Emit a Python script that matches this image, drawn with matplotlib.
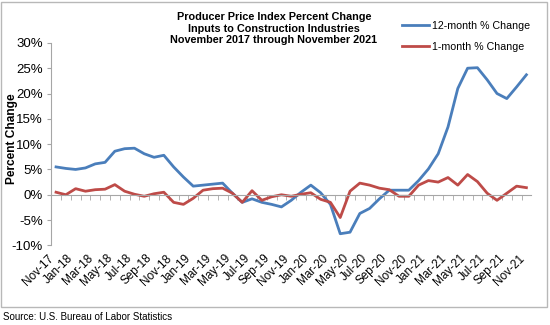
import matplotlib.pyplot as plt
import matplotlib.transforms as mtransforms
from matplotlib.patches import Rectangle

plt.rcParams['font.family'] = ['Liberation Sans', 'DejaVu Sans']

# monthly values, Nov-17 .. Nov-21
pct_12month = [5.5, 5.2, 5.0, 5.3, 6.1, 6.4, 8.6, 9.1, 9.2, 8.1, 7.4, 7.8, 5.5,
               3.5, 1.7, 1.9, 2.1, 2.3, 0.3, -1.5, -0.8, -1.5, -1.9, -2.4, -1.1,
               0.5, 1.9, 0.4, -1.9, -7.7, -7.4, -3.7, -2.7, -0.8, 0.9, 0.9, 0.9,
               2.8, 5.1, 8.1, 13.4, 21.0, 25.0, 25.1, 22.7, 20.0, 19.0, 21.3, 23.7]
pct_1month = [0.5, 0.0, 1.2, 0.7, 1.0, 1.1, 2.0, 0.7, 0.1, -0.3, 0.2, 0.5, -1.5,
              -1.9, -0.7, 0.9, 1.2, 1.3, 0.3, -1.5, 0.8, -1.1, -0.4, 0.0, -0.3,
              0.1, 0.4, -0.9, -1.5, -4.5, 0.7, 2.3, 1.9, 1.3, 1.0, -0.3, -0.3,
              1.9, 2.8, 2.5, 3.4, 1.9, 4.0, 2.6, 0.3, -1.1, 0.3, 1.7, 1.4]
month_labels = ['Nov-17', 'Jan-18', 'Mar-18', 'May-18', 'Jul-18', 'Sep-18',
                'Nov-18', 'Jan-19', 'Mar-19', 'May-19', 'Jul-19', 'Sep-19',
                'Nov-19', 'Jan-20', 'Mar-20', 'May-20', 'Jul-20', 'Sep-20',
                'Nov-20', 'Jan-21', 'Mar-21', 'May-21', 'Jul-21', 'Sep-21',
                'Nov-21']
y_ticks = [-10, -5, 0, 5, 10, 15, 20, 25, 30]

BLUE = '#4a7ebb'
RED = '#be4b48'
GRAY = '#a6a6a6'

fig = plt.figure(figsize=(5.5, 3.25), dpi=100)
ax = fig.add_axes([0.093, 0.245, 0.873, 0.623])

x = list(range(len(pct_12month)))
ax.plot(x, pct_12month, color=BLUE, lw=2.0, label='12-month % Change')
ax.plot(x, pct_1month, color=RED, lw=2.0, label='1-month % Change')

ax.set_xlim(-0.5, len(x) - 0.5)
ax.set_ylim(-10, 30)
ax.set_yticks(y_ticks)
ax.set_yticklabels([f'{v}%' for v in y_ticks], fontsize=9.5)
ax.tick_params(axis='y', direction='out', length=3, color=GRAY, pad=3)

# x axis line sits at 0%, tick marks between months
ax.spines['top'].set_visible(False)
ax.spines['right'].set_visible(False)
ax.spines['left'].set_color(GRAY)
ax.spines['bottom'].set_position(('data', 0))
ax.spines['bottom'].set_color(GRAY)
ax.set_xticks([i + 0.5 for i in x[:-1]], minor=True)
ax.set_xticks([])
ax.tick_params(axis='x', which='minor', direction='out', length=3.5, color=GRAY)

# month labels at the bottom of the plot area
sec = ax.secondary_xaxis(0.0)
sec.set_xticks(x[::2])
sec.set_xticklabels(month_labels, fontsize=8.5, rotation=45, ha='right',
                    va='center', rotation_mode='anchor')
sec.tick_params(length=0, pad=8)
sec.spines['bottom'].set_visible(False)
shift = mtransforms.ScaledTranslation(-4 / 100, 0, fig.dpi_scale_trans)
for lbl in sec.get_xticklabels():
    lbl.set_transform(lbl.get_transform() + shift)

ax.set_ylabel('Percent Change', fontsize=8.6, fontweight='bold')
ax.yaxis.set_label_coords(-0.069, 0.528)

fig.text(0.498, 0.962, 'Producer Price Index Percent Change\n'
         'Inputs to Construction Industries\n'
         'November 2017 through November 2021',
         ha='center', va='top', fontsize=7.8, fontweight='bold', linespacing=1.15)

ax.legend(loc='upper left', bbox_to_anchor=(0.731, 1.108), frameon=False,
          fontsize=7.7, handlelength=2.55, handletextpad=0.2, labelspacing=1.0,
          borderaxespad=0, borderpad=0)

fig.add_artist(Rectangle((1 / 550, 1 - 307 / 325), 546 / 550, 305 / 325,
                         transform=fig.transFigure, fill=False,
                         ec='#b8b8b8', lw=1.0))
fig.text(3 / 550, 1 - 317 / 325, 'Source: U.S. Bureau of Labor Statistics',
         ha='left', va='center', fontsize=7)

fig.savefig('out.png', dpi=100)
